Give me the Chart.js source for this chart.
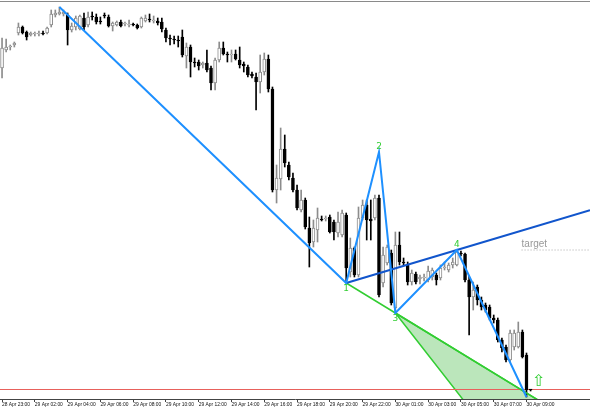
<!DOCTYPE html>
<html>
<head>
<meta charset="utf-8">
<script src="https://cdn.jsdelivr.net/npm/chart.js@4.4.1/dist/chart.umd.min.js"></script>
<style>
  html, body { margin: 0; padding: 0; background: #fff; }
  canvas { display: block; }
</style>
</head>
<body>
<canvas id="chart" width="590" height="410"></canvas>
<script>
// 15 minute candles, prices in chart units (higher = up)
const openP = [332,350,353,355,367,373,368,365,366,366, 367,367,375,385,386,386,385,370,373,371,
  382,375,384,383,379,385,383,374,375,378, 376,375,375,375,373,379,380,379,379,378,
  370,362,361,360,363,344,353,338,338,335, 337,332,317,340,352,346,345,346,340,336,
  333,326,323,318,328,341,311,210,221,251, 235,222,210,190,200,172,158,170,181,181,
  183,178,167,165,185,128,152,125,182,195, 181,182,202,117,137,147,92,155,138,135,
  118,126,121,122,120,123,125,122,132,130, 135,135,147,146,120,103,113,100,95,93,
  82,80,60,53,40,53,53,68,45,10];
const highP = [362,361,355,358,377,374,369,368,368,369, 369,373,390,390,393,390,387,377,384,385,
  387,388,388,386,383,387,385,378,379,380, 378,380,377,376,383,385,386,384,382,382,
  372,365,364,364,370,357,355,342,340,338, 350,334,342,358,358,348,350,350,353,338,
  335,328,327,345,347,345,313,235,272,265, 238,227,215,210,202,183,180,192,184,184,
  185,180,188,190,187,162,153,193,200,200, 200,205,205,153,155,150,168,168,142,138,
  130,128,125,126,134,132,127,135,138,137, 142,150,149,147,124,118,115,103,97,95,
  85,82,62,55,70,70,78,70,47,10];
const lowP = [322,348,350,353,365,366,360,364,364,364, 365,366,373,383,385,384,355,368,370,370,
  370,373,380,376,376,382,373,369,374,373, 374,373,374,371,372,378,378,377,375,368,
  358,355,356,353,343,332,323,333,330,332, 328,310,310,338,345,338,338,340,332,328,
  323,322,290,307,325,308,208,197,210,233, 220,208,190,188,171,133,153,158,179,179,
  167,160,163,163,117,123,123,123,180,160, 160,180,103,113,135,95,87,135,135,115,
  115,116,116,119,118,120,115,120,130,128, 132,134,144,118,65,90,95,90,88,80,
  77,58,48,38,38,50,52,42,3,9];
const closeP = [352,353,354,357,373,367,363,367,367,367, 366,372,386,387,388,388,370,374,382,384,
  373,383,383,378,378,384,374,377,378,374, 377,376,375,372,382,382,380,380,377,371,
  362,361,360,359,345,353,338,337,334,337, 330,317,340,352,346,345,346,341,335,334,
  325,324,318,328,341,311,210,222,251,237, 223,210,192,200,173,157,172,182,180,182,
  168,168,178,187,132,152,125,182,195,180, 179,202,105,145,153,97,155,138,137,118,
  127,118,123,123,129,130,120,132,133,135, 138,148,146,120,103,110,100,93,90,82,
  80,60,52,40,67,67,68,43,10,10];

const tickIdx = [0,8,16,24,32,40,48,56,64,72,80,88,96,104,112,120,128];
const tickLabels = ['28 Apr 23:00','29 Apr 02:00','29 Apr 04:00','29 Apr 06:00','29 Apr 08:00',
  '29 Apr 10:00','29 Apr 12:00','29 Apr 14:00','29 Apr 16:00','29 Apr 18:00','29 Apr 20:00',
  '29 Apr 22:00','30 Apr 01:00','30 Apr 03:00','30 Apr 05:00','30 Apr 07:00','30 Apr 09:00'];

// zigzag pattern: X, 1, 2, 3, 4, end
const patIdx = [14, 84, 92, 96, 111, 128];
const patVal = [393, 117, 248, 87, 150, 3];
const patNames = ['', '1', '2', '3', '4', ''];

// 1-4 trend line, extended to the right edge
const trendIdx = [84, 111, 143.5];
const trendVal = [117, 150, 189.7];
// 1-3 line, extended down
const lowerIdx = [84, 96, 138.8];
const lowerVal = [117, 87, -20];
// shaded triangle from point 3
const triIdx = [96, 116.4, 138.8, 96];
const triVal = [87, -20, -20, 87];

const askLevel = 10.5;
const targetLevel = 150;
const targetFrom = 126.8;
const arrowIdx = 130.9, arrowVal = 18.3;

const pts = (xs, ys) => xs.map((x, i) => ({ x: x, y: ys[i] }));
const isUp = openP.map((o, i) => closeP[i] > o);

const annotations = {
  id: 'annotations',
  afterDatasetsDraw(chart) {
    const { ctx, scales: { x, y } } = chart;
    ctx.save();
    ctx.strokeStyle = '#8a8a8a';
    ctx.lineWidth = 1;
    ctx.beginPath();
    ctx.moveTo(0, 1.5);
    ctx.lineTo(chart.width, 1.5);
    ctx.stroke();

    ctx.font = '9px "DejaVu Sans"';
    ctx.fillStyle = '#32cd32';
    ctx.textAlign = 'center';
    ctx.textBaseline = 'alphabetic';
    patNames.forEach((t, i) => {
      if (!t) return;
      const px = x.getPixelForValue(patIdx[i]);
      const py = y.getPixelForValue(patVal[i]);
      const below = (i === 1 || i === 3);
      ctx.fillText(t, px, below ? py + 7.5 : py - 3.5);
    });

    ctx.font = '10px "Liberation Sans"';
    ctx.fillStyle = '#999';
    ctx.textAlign = 'left';
    ctx.fillText('target', x.getPixelForValue(targetFrom), y.getPixelForValue(targetLevel) - 3);

    ctx.font = '16px "DejaVu Sans"';
    ctx.fillStyle = '#32cd32';
    ctx.textAlign = 'center';
    ctx.textBaseline = 'middle';
    ctx.fillText('\u21E7', x.getPixelForValue(arrowIdx), y.getPixelForValue(arrowVal));
    ctx.restore();
  }
};

new Chart(document.getElementById('chart'), {
  type: 'bar',
  data: {
    datasets: [
      {
        type: 'line', data: pts(triIdx, triVal), order: 9,
        borderColor: '#32cd32', borderWidth: 1.5, backgroundColor: 'rgba(50,180,50,0.33)',
        fill: 'shape', pointRadius: 0, tension: 0
      },
      {
        type: 'line', data: pts([-0.5, 143.5], [askLevel, askLevel]), order: 8,
        borderColor: '#e8615c', borderWidth: 1, pointRadius: 0, fill: false
      },
      {
        type: 'line', data: pts([targetFrom, 143.5], [targetLevel, targetLevel]), order: 8,
        borderColor: '#aaa', borderWidth: 1, borderDash: [1, 2], pointRadius: 0, fill: false
      },
      {
        data: lowP.map((l, i) => ({ x: i, y: [l, highP[i]] })), order: 5,
        barThickness: 1, grouped: false, borderWidth: 0,
        backgroundColor: isUp.map(u => u ? '#8c8c8c' : '#000')
      },
      {
        data: openP.map((o, i) => ({ x: i, y: [o, closeP[i]] })), order: 4,
        barThickness: 3, grouped: false, minBarLength: 1, borderWidth: 1, borderSkipped: false,
        backgroundColor: isUp.map(u => u ? '#fff' : '#000'),
        borderColor: isUp.map(u => u ? '#8c8c8c' : '#000')
      },
      {
        type: 'line', data: pts(lowerIdx, lowerVal), order: 3,
        borderColor: '#32cd32', borderWidth: 1.5, pointRadius: 0, fill: false, tension: 0
      },
      {
        type: 'line', data: pts(trendIdx, trendVal), order: 2,
        borderColor: '#1155cc', borderWidth: 2, pointRadius: 0, fill: false, tension: 0
      },
      {
        type: 'line', data: pts(patIdx, patVal), order: 1,
        borderColor: '#1e90ff', borderWidth: 2, pointRadius: 0, fill: false, tension: 0
      }
    ]
  },
  options: {
    responsive: false,
    animation: false,
    layout: { padding: { top: 1, left: 0, right: 0, bottom: 0 } },
    plugins: { legend: { display: false }, tooltip: { enabled: false } },
    scales: {
      x: {
        type: 'linear', min: -0.5, max: 143.5, offset: false,
        afterBuildTicks: s => { s.ticks = tickIdx.map(v => ({ value: v })); },
        afterFit: s => { s.height = 11; },
        ticks: {
          autoSkip: false, maxRotation: 0, minRotation: 0, align: 'start', padding: 0,
          color: '#111', font: { family: 'Liberation Sans', size: 4.9 },
          callback: (v, i) => tickLabels[i]
        },
        grid: { drawOnChartArea: false, drawTicks: true, tickLength: 3, color: '#444', offset: false },
        border: { display: true, color: '#444', width: 1 }
      },
      y: { display: false, min: 1, max: 399 }
    }
  },
  plugins: [annotations]
});
</script>
</body>
</html>
